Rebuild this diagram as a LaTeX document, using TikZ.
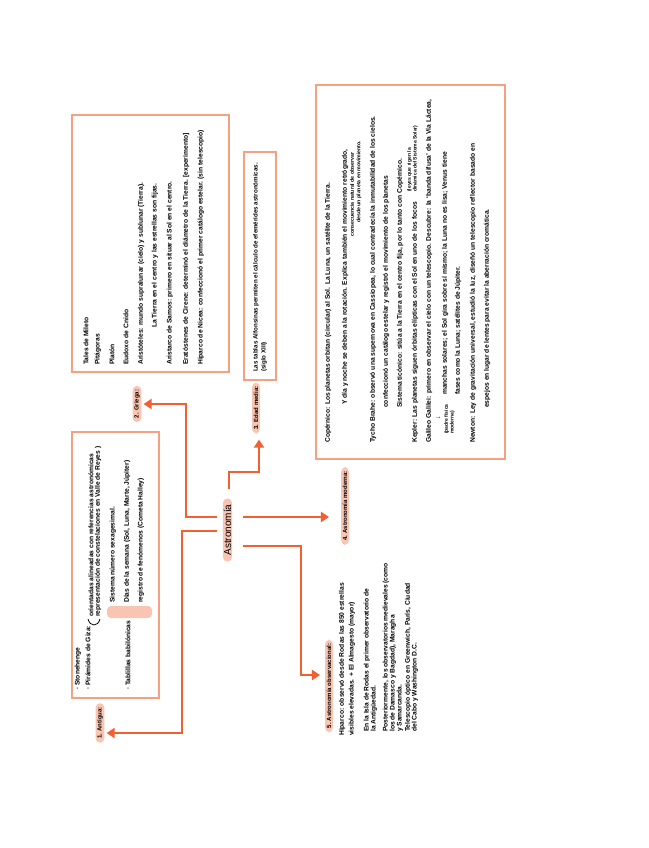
\documentclass[tikz,border=0pt]{standalone}
\usepackage{fontspec}
\setmainfont{Liberation Sans}
\usetikzlibrary{arrows.meta,calc}
\definecolor{coral}{HTML}{F25F30}
\definecolor{salmon}{HTML}{F6A082}
\definecolor{peach}{HTML}{F9C4B1}
\tikzset{every node/.style={rotate=90, inner sep=0pt, font=\fontsize{6.7}{7.4}\selectfont\bfseries},
  txt/.style={anchor=west},
  sml/.style={anchor=north west, align=left, font=\fontsize{5}{5.8}\selectfont\bfseries},
  tag/.style={fill=peach, rounded corners=4.5pt, inner xsep=4pt, inner ysep=1.6pt, font=\fontsize{6}{6.8}\selectfont\bfseries},
  frame/.style={draw=salmon, line width=1.3pt},
  arr/.style={draw=coral, line width=2.8pt, -{Triangle[width=10pt,length=8pt]}, shorten >=2pt}}

\begin{document}
\begin{tikzpicture}[x=1pt,y=-1pt]
  \useasboundingbox (0,0) rectangle (648,848);
  % centre
  \node[tag, font=\fontsize{10}{10}\selectfont, inner xsep=6pt, inner ysep=0.8pt] (astro) at (227.5,530) {Astronomía};
  \coordinate (a1) at ($(astro)+(-10.5,-13)$);
  \coordinate (a2) at ($(astro)+(-10.5,1)$);
  \coordinate (a3) at ($(astro)+(1.5,-41)$);
  \coordinate (a4) at ($(astro)+(15.5,-13)$);
  \coordinate (a5) at ($(astro)+(15.5,16)$);

  % etiquetas
  \node[tag] (antigua)   at (100,723) {1. Antigua:};
  \node[tag] (griega)    at (137,404) {2. Griega:};
  \node[tag] (edadmedia) at (256,408) {3. Edad media:};
  \node[tag] (moderna)   at (345,506) {4. Astronomía moderna:};
  \node[tag] (observ)    at (329,686) {5. Astronomía observacional:};

  \draw[arr] (a1) -- ++(-31,0) |- (griega.south);
  \draw[arr] (a2) -- ++(-35,0) |- ([yshift=-10pt]antigua.south);
  \draw[arr, shorten >=6pt] (a3) -- ++(0,-17) -| ([xshift=3pt]edadmedia.west);
  \draw[arr, shorten >=12pt] (a4) -- (a4 -| moderna.north);
  \draw[arr, shorten >=5pt] (a5) -- ++(58,0) |- ([yshift=11pt]observ.north);

  % 1. Antigua
  \draw[frame] (72,432) rectangle (159,698);
  \node[txt] (ant1) at (78,690) {· Stonehenge};
  \node[txt] (ant2) at (88,690) {· Pirámides de Giza:};
  \draw[line width=0.8pt] (88,619) .. controls (90,627) and (98,627) .. (100,619);
  \node[txt] (ant3) at (91,617) {orientadas alineadas con referencias astronómicas};
  \node[txt] (ant4) at (98,617) {representación de constelaciones en Valle de Reyes )};
  \node[txt] (ant5) at (128,690) {· Tablillas babilónicas};
  \fill[peach, rounded corners=4pt] (107,606) rectangle (152,618);
  \node[txt] (ant6) at (113,603) {Sistema número sexagesimal.};
  \node[txt] (ant7) at (127,603) {Días de la semana (Sol, Luna, Marte, Júpiter)};
  \node[txt] (ant8) at (141,603) {registro de fenómenos (Cometa Halley)};

  % 2. Griega
  \draw[frame] (72,115) rectangle (229,372);
  \node[txt] (gr1) at (86,365) {Tales de Mileto};
  \node[txt] (gr2) at (98,365) {Pitágoras};
  \node[txt] (gr3) at (112,365) {Platón};
  \node[txt] (gr4) at (126,365) {Eudoxo de Cnido};
  \node[txt] (gr5) at (141,365) {Aristóteles: mundo supralunar (cielo) y sublunar (Tierra).};
  \node[txt] (gr6) at (155,328) {La Tierra en el centro y las estrellas son fijas.};
  \node[txt] (gr7) at (170,365) {Aristarco de Samos: primero en situar al Sol en el centro.};
  \node[txt] (gr8) at (186,365) {Eratóstenes de Cirene: determinó el diámetro de la Tierra. [experimento]};
  \node[txt] (gr9) at (201,365) {Hiparco de Nicea: confeccionó el primer catálogo estelar. (sin telescopio)};

  % 3. Edad media
  \draw[frame] (244,152) rectangle (276,380);
  \node[txt, font=\fontsize{6.2}{7}\selectfont\bfseries] (em1) at (256,372) {Las tablas Alfonsinas permiten el cálculo de efemérides astronómicas.};
  \node[txt, font=\fontsize{6.2}{7}\selectfont\bfseries] (em2) at (264,372) {(siglo XIII)};

  % 4. Astronomia moderna
  \draw[frame] (316,85) rectangle (505,459);
  \node[txt] (mo1) at (328,443) {Copérnico: Los planetas orbitan (circular) al Sol. La Luna, un satélite de la Tierra.};
  \node[txt] (mo2) at (345,405) {Y día y noche se deben a la rotación. Explica también el movimiento retrógrado,};
  \node[txt, font=\fontsize{5.2}{5.8}\selectfont\bfseries] (mo3) at (352,237) {consecuencia natural de observar};
  \node[txt, font=\fontsize{5.2}{5.8}\selectfont\bfseries] (mo4) at (359,223) {desde un planeta en movimiento.};
  \node[txt] (mo5) at (373,443) {Tycho Brahe: observó una supernova en Cassiopea, lo cual contradecía la inmutabilidad de los cielos.};
  \node[txt] (mo6) at (386,408) {confeccionó un catálogo estelar y registró el movimiento de los planetas};
  \node[txt] (mo7) at (400,408) {Sistema ticónico: sitúa a la Tierra en el centro fija, por lo tanto con Copérnico.};
  \node[txt] (mo8) at (415,443) {Kepler: Las planetas siguen órbitas elípticas con el Sol en uno de los focos};
  \node[sml] (mo9) at (407,192) {(leyes que rigen la\\ dinámica del Sistema Solar)};
  \node[txt] (mo10) at (429,443) {Galileo Galilei: primero en observar el cielo con un telescopio. Descubre: la ‘banda difusa’ de la Vía Láctea,};
  \node[txt] (mo11) at (438,420) {↓};
  \node[sml] (mo12) at (444,434) {(padre física\\ moderna)};
  \node[txt] (mo13) at (445,395) {manchas solares; el Sol gira sobre sí mismo; la Luna no es lisa; Venus tiene};
  \node[txt] (mo14) at (458,395) {fases como la Luna; satélites de Júpiter.};
  \node[txt] (mo15) at (473,443) {Newton: Ley de gravitación universal, estudió la luz, diseñó un telescopio reflector basado en};
  \node[txt] (mo16) at (487,408) {espejos en lugar de lentes para evitar la aberración cromática.};

  % 5. Astronomia observacional
  \node[txt] (ob1) at (342,736) {Hiparco: observó desde Rodas las 850 estrellas};
  \node[txt] (ob2) at (352,736) {visibles elevadas. + El Almagesto (mayor)};
  \node[txt] (ob3) at (367,732) {En la Isla de Rodas el primer observatorio de};
  \node[txt] (ob4) at (374,732) {la Antigüedad.};
  \node[txt] (ob5) at (386,732) {Posteriormente, los observatorios medievales (como};
  \node[txt] (ob6) at (393,732) {los de Damasco y Bagdad), Maragha};
  \node[txt] (ob7) at (400,732) {y Samarcanda.};
  \node[txt] (ob8) at (408,732) {Telescopio óptico en Greenwich, París, Ciudad};
  \node[txt] (ob9) at (415,732) {del Cabo y Washington D.C.};
\end{tikzpicture}
\end{document}
